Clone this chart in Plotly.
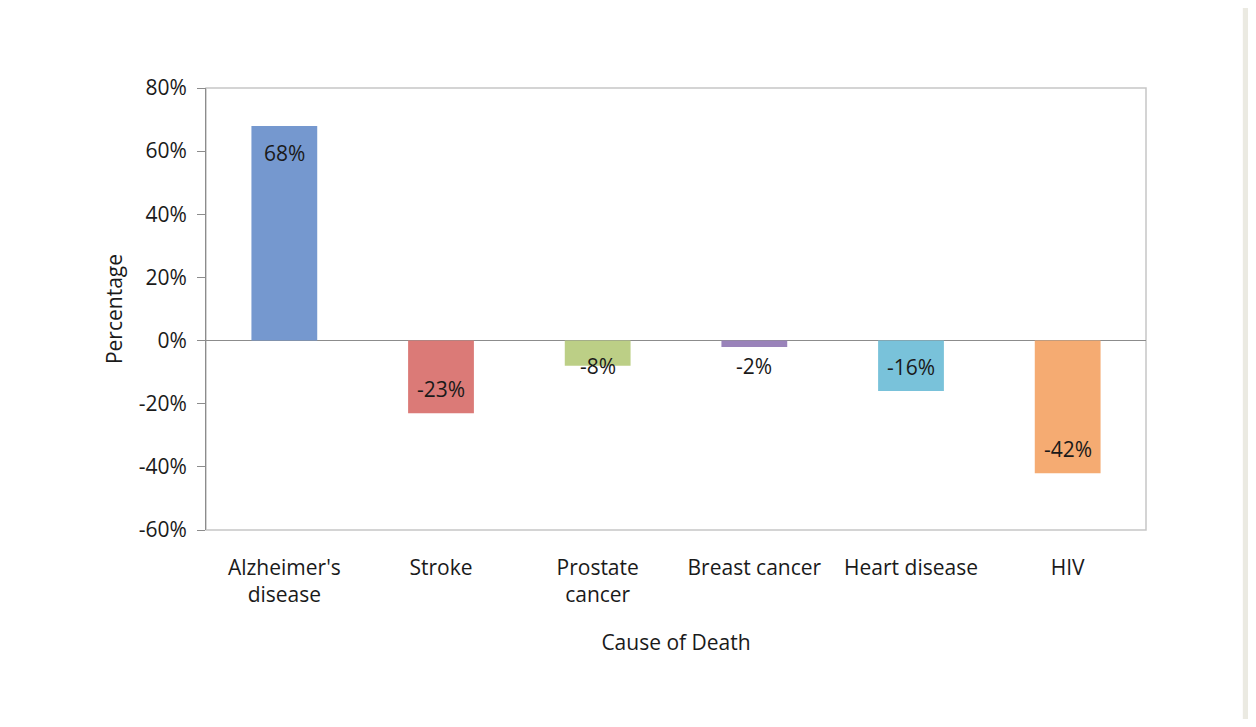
import plotly.graph_objects as go

causes = ["Alzheimer's<br>disease", "Stroke", "Prostate<br>cancer", "Breast cancer", "Heart disease", "HIV"]
change_pct = [68, -23, -8, -2, -16, -42]
bar_colors = ["#7598cf", "#db7a77", "#bccf86", "#9a83ba", "#79c2da", "#f5ab72"]
y_ticks = [-60, -40, -20, 0, 20, 40, 60, 80]
y_tick_text = [f"{v}%" for v in y_ticks]

FONT = "Open Sans"
SIZE = 21
TEXT = "#1a1a1a"


def label_y(v):
    # "inside end" style labels, pushed below the axis for short bars
    if v >= 0:
        return v - 8.5
    return min(v + 7.6, -8.2)


fig = go.Figure()
fig.add_trace(go.Bar(
    x=causes, y=change_pct,
    marker=dict(color=bar_colors, line=dict(width=0)),
    width=0.42,
    hoverinfo="x+y",
    showlegend=False,
))

for c, v in zip(causes, change_pct):
    fig.add_annotation(
        x=c, y=label_y(v), text=f"{v}%", showarrow=False,
        font=dict(family=FONT, size=SIZE, color=TEXT),
    )

# white card on a beige page
fig.add_shape(type="rect", xref="paper", yref="paper",
              x0=-0.214, x1=1.103, y0=-0.46, y1=1.2,
              fillcolor="white", line=dict(width=0), layer="below")
# plot-area frame
fig.add_shape(type="rect", xref="paper", yref="paper",
              x0=0, x1=1, y0=0, y1=1,
              line=dict(color="#c6c6c6", width=1.5), layer="below")

# page body adds an 8px offset, so the figure is a bit smaller than the window
fig.update_layout(
    width=1240, height=711,
    margin=dict(l=198, r=102, t=80, b=189),
    paper_bgcolor="#ebeae2",
    plot_bgcolor="rgba(0,0,0,0)",
    font=dict(family=FONT, size=SIZE, color=TEXT),
    bargap=0.58,
)
fig.update_xaxes(
    title=dict(text="Cause of Death", standoff=28, font=dict(size=SIZE)),
    showgrid=False, showline=False, ticks="",
    tickfont=dict(size=SIZE), ticklabelstandoff=23,
)
fig.update_yaxes(
    title=dict(text="Percentage", standoff=10, font=dict(size=SIZE)),
    range=[-60, 80], tickvals=y_ticks, ticktext=y_tick_text,
    showgrid=False, showline=True, linecolor="#8c8c8c", linewidth=1,
    ticks="outside", ticklen=8, tickcolor="#8c8c8c",
    ticklabelstandoff=6,
    zeroline=True, zerolinecolor="#8c8c8c", zerolinewidth=1,
    tickfont=dict(size=SIZE),
)

fig.write_html("out.html")
